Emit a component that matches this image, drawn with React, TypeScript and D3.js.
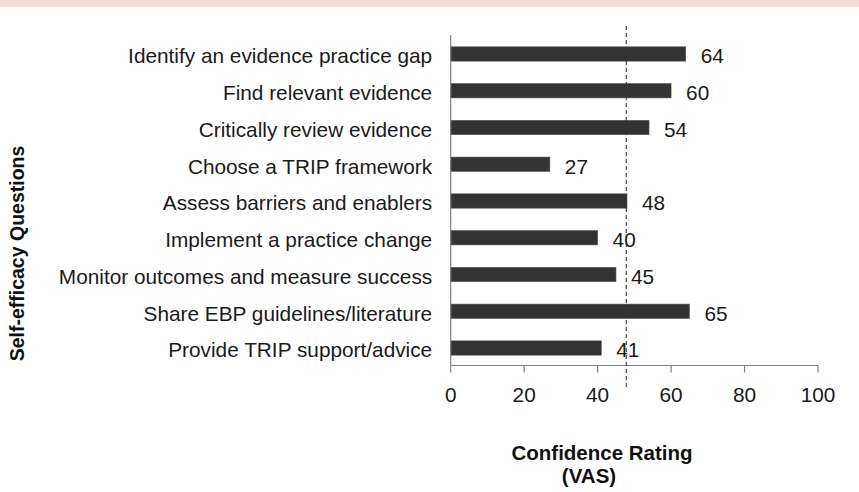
import React from "react";
import * as d3 from "d3";

const categories = [
  "Identify an evidence practice gap",
  "Find relevant evidence",
  "Critically review evidence",
  "Choose a TRIP framework",
  "Assess barriers and enablers",
  "Implement a practice change ",
  "Monitor outcomes and measure success",
  "Share EBP guidelines/literature",
  "Provide TRIP support/advice",
];
const values = [64, 60, 54, 27, 48, 40, 45, 65, 41];
const xTicks = [0, 20, 40, 60, 80, 100];
const referenceValue = 47.8;
const xTitleLines = ["Confidence Rating", "(VAS)"];
const yTitle = "Self-efficacy Questions";

const W = 859;
const H = 492;
const FONT = "'Liberation Sans', Arial, Helvetica, sans-serif";

export default function App() {
  const x = d3.scaleLinear().domain([0, 100]).range([450.7, 818]);
  const y = d3.scaleBand<string>().domain(categories).range([35.6, 366.4]).padding(0);
  const bw = y.bandwidth();
  const barH = bw * 0.39;
  const axisY = 365.5;

  return (
    <svg
      width={W}
      height={H}
      style={{ position: "absolute", left: 0, top: 0, background: "#fff" }}
      fontFamily={FONT}
    >
      <rect x={0} y={0} width={W} height={H} fill="#fff" />
      <rect x={0} y={0} width={W} height={7} fill="#f4ddd8" />

      {/* bars */}
      {categories.map((c, i) => {
        const cy = (y(c) as number) + bw / 2;
        return (
          <g key={c}>
            <rect
              x={x(0)}
              y={cy - barH / 2}
              width={x(values[i]) - x(0)}
              height={barH}
              fill="#333"
              stroke="#555"
              strokeWidth={0.6}
            />
            <text
              x={x(0) - 18.5}
              y={cy + 9.3}
              textAnchor="end"
              fontSize={20.8}
              fill="#1a1a1a"
            >
              {c}
            </text>
            <text x={x(values[i]) + 15} y={cy + 9.3} fontSize={20.8} fill="#1a1a1a">
              {values[i]}
            </text>
          </g>
        );
      })}

      {/* axes */}
      <line x1={x(0)} x2={x(0)} y1={35} y2={axisY} stroke="#808080" strokeWidth={1.2} />
      <line x1={x(0)} x2={x(100)} y1={axisY} y2={axisY} stroke="#808080" strokeWidth={1.2} />
      {xTicks.map((t) => (
        <g key={t}>
          <line x1={x(t)} x2={x(t)} y1={axisY} y2={axisY + 7} stroke="#808080" strokeWidth={1.2} />
          <text x={x(t)} y={402} textAnchor="middle" fontSize={20.8} fill="#1a1a1a">
            {t}
          </text>
        </g>
      ))}

      {/* reference dashed line */}
      <line
        x1={x(referenceValue)}
        x2={x(referenceValue)}
        y1={26}
        y2={389}
        stroke="#333"
        strokeWidth={1.1}
        strokeDasharray="4,3"
      />

      {/* titles */}
      <text x={602} y={460} textAnchor="middle" fontSize={20.5} fontWeight="bold" fill="#111">
        {xTitleLines[0]}
      </text>
      <text x={589} y={483} textAnchor="middle" fontSize={20.5} fontWeight="bold" fill="#111">
        {xTitleLines[1]}
      </text>
      <text
        transform={`translate(24,253.5) rotate(-90)`}
        textAnchor="middle"
        fontSize={19.5}
        fontWeight="bold"
        fill="#111"
      >
        {yTitle}
      </text>
    </svg>
  );
}
